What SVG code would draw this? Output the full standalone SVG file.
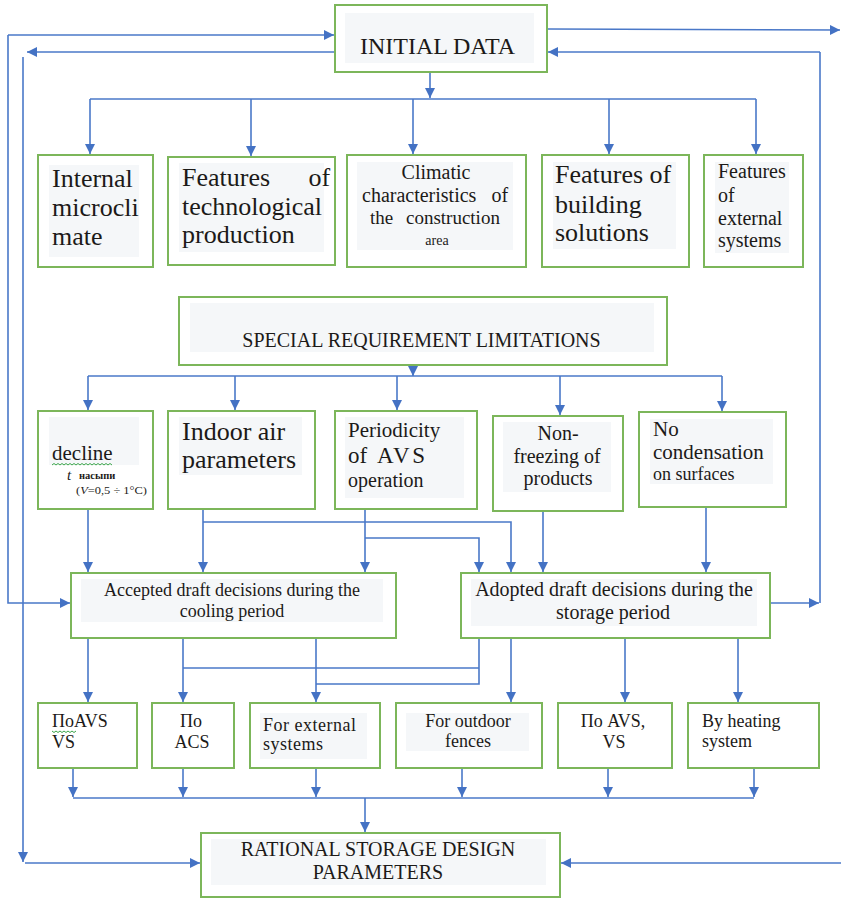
<svg xmlns="http://www.w3.org/2000/svg" width="841" height="898" viewBox="0 0 841 898">
<style>
  .box { fill: #ffffff; stroke: #7cb65a; stroke-width: 2; }
  .bg { fill: #f5f7f9; stroke: none; }
  .t { font-family: "Liberation Serif", "Times New Roman", serif; fill: #1c1a18; }
  .c { fill: none; stroke: #4a78c8; stroke-width: 1.6; }
  .a { fill: none; stroke: #4a78c8; stroke-width: 1.6; marker-end: url(#arr); }
  .wavy { fill: none; stroke: #3aa54a; stroke-width: 1; }
</style>
<defs>
  <marker id="arr" viewBox="0 0 10 10" refX="10" refY="5" markerWidth="10" markerHeight="10" markerUnits="userSpaceOnUse" orient="auto">
    <path d="M0,0 L10,5 L0,10 z" fill="#4472c4"/>
  </marker>
</defs>
<rect width="841" height="898" fill="#ffffff"/>

<g id="connectors">
  <!-- top -->
  <path class="a" d="M430,72 V98"/>
  <path class="c" d="M90,99 H756"/>
  <path class="a" d="M90,99 V154"/>
  <path class="a" d="M251,99 V156"/>
  <path class="a" d="M413,99 V154"/>
  <path class="a" d="M609,99 V154"/>
  <path class="a" d="M756,99 V154"/>
  <!-- left loops -->
  <path class="a" d="M8,35 H334"/>
  <path class="a" d="M8,35 V603 H70"/>
  <path class="a" d="M334,52 H27"/>
  <path class="a" d="M23,57 V862"/>
  <path class="a" d="M25,863 H200"/>
  <!-- right loops -->
  <path class="a" d="M548,29 L840,30"/>
  <path class="c" d="M820,52 V603"/>
  <path class="a" d="M820,52 H548"/>
  <path class="a" d="M771,603 H819"/>
  <path class="a" d="M841,863 H561"/>
  <!-- special -->
  <path class="a" d="M413,365 V376"/>
  <path class="c" d="M88,376 H722"/>
  <path class="a" d="M88,376 V410"/>
  <path class="a" d="M235,376 V410"/>
  <path class="a" d="M397,376 V410"/>
  <path class="a" d="M560,376 V415"/>
  <path class="a" d="M722,376 V411"/>
  <!-- row2 to decisions -->
  <path class="a" d="M88,509 V572"/>
  <path class="a" d="M203,509 V572"/>
  <path class="a" d="M203,522 H511 V572"/>
  <path class="a" d="M365,509 V572"/>
  <path class="a" d="M365,538 H479 V572"/>
  <path class="a" d="M543,511 V572"/>
  <path class="a" d="M706,507 V572"/>
  <!-- decisions to row3 -->
  <path class="a" d="M88,638 V702"/>
  <path class="a" d="M183,638 V702"/>
  <path class="c" d="M183,668 H479"/>
  <path class="c" d="M479,638 V684 H316"/>
  <path class="a" d="M316,638 V702"/>
  <path class="a" d="M511,638 V702"/>
  <path class="a" d="M625,638 V702"/>
  <path class="a" d="M738,638 V702"/>
  <!-- row3 to rational -->
  <path class="a" d="M73,768 V797"/>
  <path class="a" d="M183,768 V797"/>
  <path class="a" d="M316,768 V797"/>
  <path class="a" d="M462,768 V797"/>
  <path class="a" d="M608,768 V797"/>
  <path class="a" d="M754,768 V797"/>
  <path class="c" d="M73,798 H754"/>
  <path class="a" d="M365,798 V832"/>
</g>

<g id="initial-data">
  <rect class="box" x="335" y="5" width="212" height="67"/>
  <rect class="bg" x="345" y="13" width="189" height="50"/>
  <text class="t" x="437.5" y="54" font-size="24" text-anchor="middle">INITIAL DATA</text>
</g>

<g id="internal-microclimate">
  <rect class="box" x="38" y="155" width="115" height="112"/>
  <rect class="bg" x="49" y="165" width="90" height="92"/>
  <text class="t" font-size="26"><tspan x="52" y="187">Internal</tspan><tspan x="52" y="216">microcli</tspan><tspan x="52" y="245">mate</tspan></text>
</g>

<g id="features-technological">
  <rect class="box" x="168" y="157" width="167" height="108"/>
  <rect class="bg" x="179" y="163" width="145" height="89"/>
  <text class="t" font-size="26"><tspan x="182" y="186" word-spacing="32">Features of</tspan><tspan x="182" y="215">technological</tspan><tspan x="182" y="243">production</tspan></text>
</g>

<g id="climatic">
  <rect class="box" x="347" y="155" width="179" height="112"/>
  <rect class="bg" x="357" y="162" width="156" height="88"/>
  <text class="t" font-size="20" x="436" y="179" text-anchor="middle">Climatic</text>
  <text class="t" font-size="20" x="362" y="202" word-spacing="10">characteristics of</text>
  <text class="t" font-size="19" x="370" y="224" word-spacing="8">the construction</text>
  <text class="t" font-size="14" x="437" y="245" text-anchor="middle">area</text>
</g>

<g id="features-building">
  <rect class="box" x="542" y="155" width="147" height="112"/>
  <rect class="bg" x="553" y="162" width="123" height="87"/>
  <text class="t" font-size="26"><tspan x="555" y="183">Features of</tspan><tspan x="555" y="213">building</tspan><tspan x="555" y="241">solutions</tspan></text>
</g>

<g id="features-external">
  <rect class="box" x="704" y="155" width="99" height="112"/>
  <rect class="bg" x="715" y="162" width="74" height="91"/>
  <text class="t" font-size="20"><tspan x="718" y="178">Features</tspan><tspan x="718" y="202">of</tspan><tspan x="718" y="225">external</tspan><tspan x="718" y="247">systems</tspan></text>
</g>

<g id="special-requirements">
  <rect class="box" x="179" y="297" width="488" height="68"/>
  <rect class="bg" x="190" y="303" width="464" height="49"/>
  <text class="t" font-size="20" x="421.5" y="347" text-anchor="middle">SPECIAL REQUIREMENT LIMITATIONS</text>
</g>

<g id="decline">
  <rect class="box" x="38" y="411" width="115" height="98"/>
  <rect class="bg" x="49" y="417" width="90" height="48"/>
  <text class="t" font-size="21" x="52" y="460">decline</text>
  <path class="wavy" d="M52,465 l2,-1.5 l2,1.5 l2,-1.5 l2,1.5 l2,-1.5 l2,1.5 l2,-1.5 l2,1.5 l2,-1.5 l2,1.5 l2,-1.5 l2,1.5 l2,-1.5 l2,1.5 l2,-1.5 l2,1.5 l2,-1.5 l2,1.5 l2,-1.5 l2,1.5 l2,-1.5 l2,1.5 l2,-1.5 l2,1.5 l2,-1.5 l2,1.5 l2,-1.5 l2,1.5 l2,-1.5 l2,1.5"/>
  <text class="t" font-size="15" font-style="italic" x="67" y="480">t</text>
  <text class="t" font-size="10.5" font-weight="bold" x="79" y="479">насыпи</text>
  <text class="t" font-size="11" x="76" y="494" textLength="71" lengthAdjust="spacingAndGlyphs">(<tspan font-style="italic">V</tspan>=0,5 ÷ 1°C)</text>
</g>

<g id="indoor-air">
  <rect class="box" x="168" y="411" width="147" height="98"/>
  <rect class="bg" x="179" y="417" width="123" height="58"/>
  <text class="t" font-size="26"><tspan x="182" y="440">Indoor air</tspan><tspan x="182" y="468">parameters</tspan></text>
</g>

<g id="periodicity">
  <rect class="box" x="335" y="411" width="142" height="98"/>
  <rect class="bg" x="345" y="417" width="119" height="81"/>
  <text class="t" font-size="21" x="348" y="437">Periodicity</text>
  <text class="t" font-size="23" x="348" y="463">of <tspan letter-spacing="2.5" dx="4">AVS</tspan></text>
  <text class="t" font-size="20" x="348" y="487">operation</text>
</g>

<g id="non-freezing">
  <rect class="box" x="493" y="416" width="130" height="95"/>
  <rect class="bg" x="503" y="422" width="108" height="70"/>
  <text class="t" font-size="20" text-anchor="middle"><tspan x="558" y="440">Non-</tspan><tspan x="557" y="463">freezing of</tspan><tspan x="558" y="485">products</tspan></text>
</g>

<g id="no-condensation">
  <rect class="box" x="639" y="412" width="147" height="95"/>
  <rect class="bg" x="650" y="419" width="123" height="65"/>
  <text class="t" font-size="21"><tspan x="653" y="436">No</tspan><tspan x="653" y="459">condensation</tspan></text>
  <text class="t" font-size="18" x="653" y="480">on surfaces</text>
</g>

<g id="accepted-cooling">
  <rect class="box" x="71" y="573" width="325" height="65"/>
  <rect class="bg" x="81" y="579" width="302" height="43"/>
  <text class="t" font-size="18" text-anchor="middle"><tspan x="232" y="596">Accepted draft decisions during the</tspan><tspan x="232" y="617">cooling period</tspan></text>
</g>

<g id="adopted-storage">
  <rect class="box" x="461" y="573" width="309" height="65"/>
  <rect class="bg" x="471" y="579" width="286" height="47"/>
  <text class="t" font-size="20" text-anchor="middle"><tspan x="614" y="596">Adopted draft decisions during the</tspan><tspan x="613" y="619">storage period</tspan></text>
</g>

<g id="po-avs-vs">
  <rect class="box" x="38" y="703" width="99" height="65"/>
  <text class="t" font-size="18"><tspan x="52" y="727">ПоAVS</tspan><tspan x="52" y="748">VS</tspan></text>
  <path class="wavy" d="M52,731 l2,1.5 l2,-1.5 l2,1.5 l2,-1.5 l2,1.5 l2,-1.5 l2,1.5 l2,-1.5 l2,1.5 l2,-1.5 l2,1.5 l2,-1.5"/>
</g>

<g id="po-acs">
  <rect class="box" x="152" y="703" width="82" height="65"/>
  <text class="t" font-size="18" text-anchor="middle"><tspan x="191" y="727">По</tspan><tspan x="192" y="748">ACS</tspan></text>
</g>

<g id="external-systems">
  <rect class="box" x="250" y="703" width="130" height="65"/>
  <rect class="bg" x="260" y="713" width="107" height="46"/>
  <text class="t" font-size="18" x="263" y="731" letter-spacing="0.5">For external</text>
  <text class="t" font-size="18" x="263" y="750" letter-spacing="0.5">systems</text>
</g>

<g id="outdoor-fences">
  <rect class="box" x="396" y="703" width="146" height="65"/>
  <rect class="bg" x="406" y="713" width="123" height="38"/>
  <text class="t" font-size="18" text-anchor="middle"><tspan x="468" y="727">For outdoor</tspan><tspan x="468" y="747">fences</tspan></text>
</g>

<g id="po-avs-vs-2">
  <rect class="box" x="558" y="703" width="114" height="65"/>
  <text class="t" font-size="18" text-anchor="middle"><tspan x="613" y="727">По AVS,</tspan><tspan x="614" y="748">VS</tspan></text>
</g>

<g id="heating-system">
  <rect class="box" x="688" y="703" width="131" height="65"/>
  <text class="t" font-size="18"><tspan x="702" y="727">By heating</tspan><tspan x="702" y="747">system</tspan></text>
</g>

<g id="rational-parameters">
  <rect class="box" x="201" y="833" width="359" height="64"/>
  <rect class="bg" x="211" y="839" width="335" height="46"/>
  <text class="t" font-size="20" text-anchor="middle"><tspan x="378" y="856">RATIONAL STORAGE DESIGN</tspan><tspan x="378" y="879">PARAMETERS</tspan></text>
</g>
</svg>
